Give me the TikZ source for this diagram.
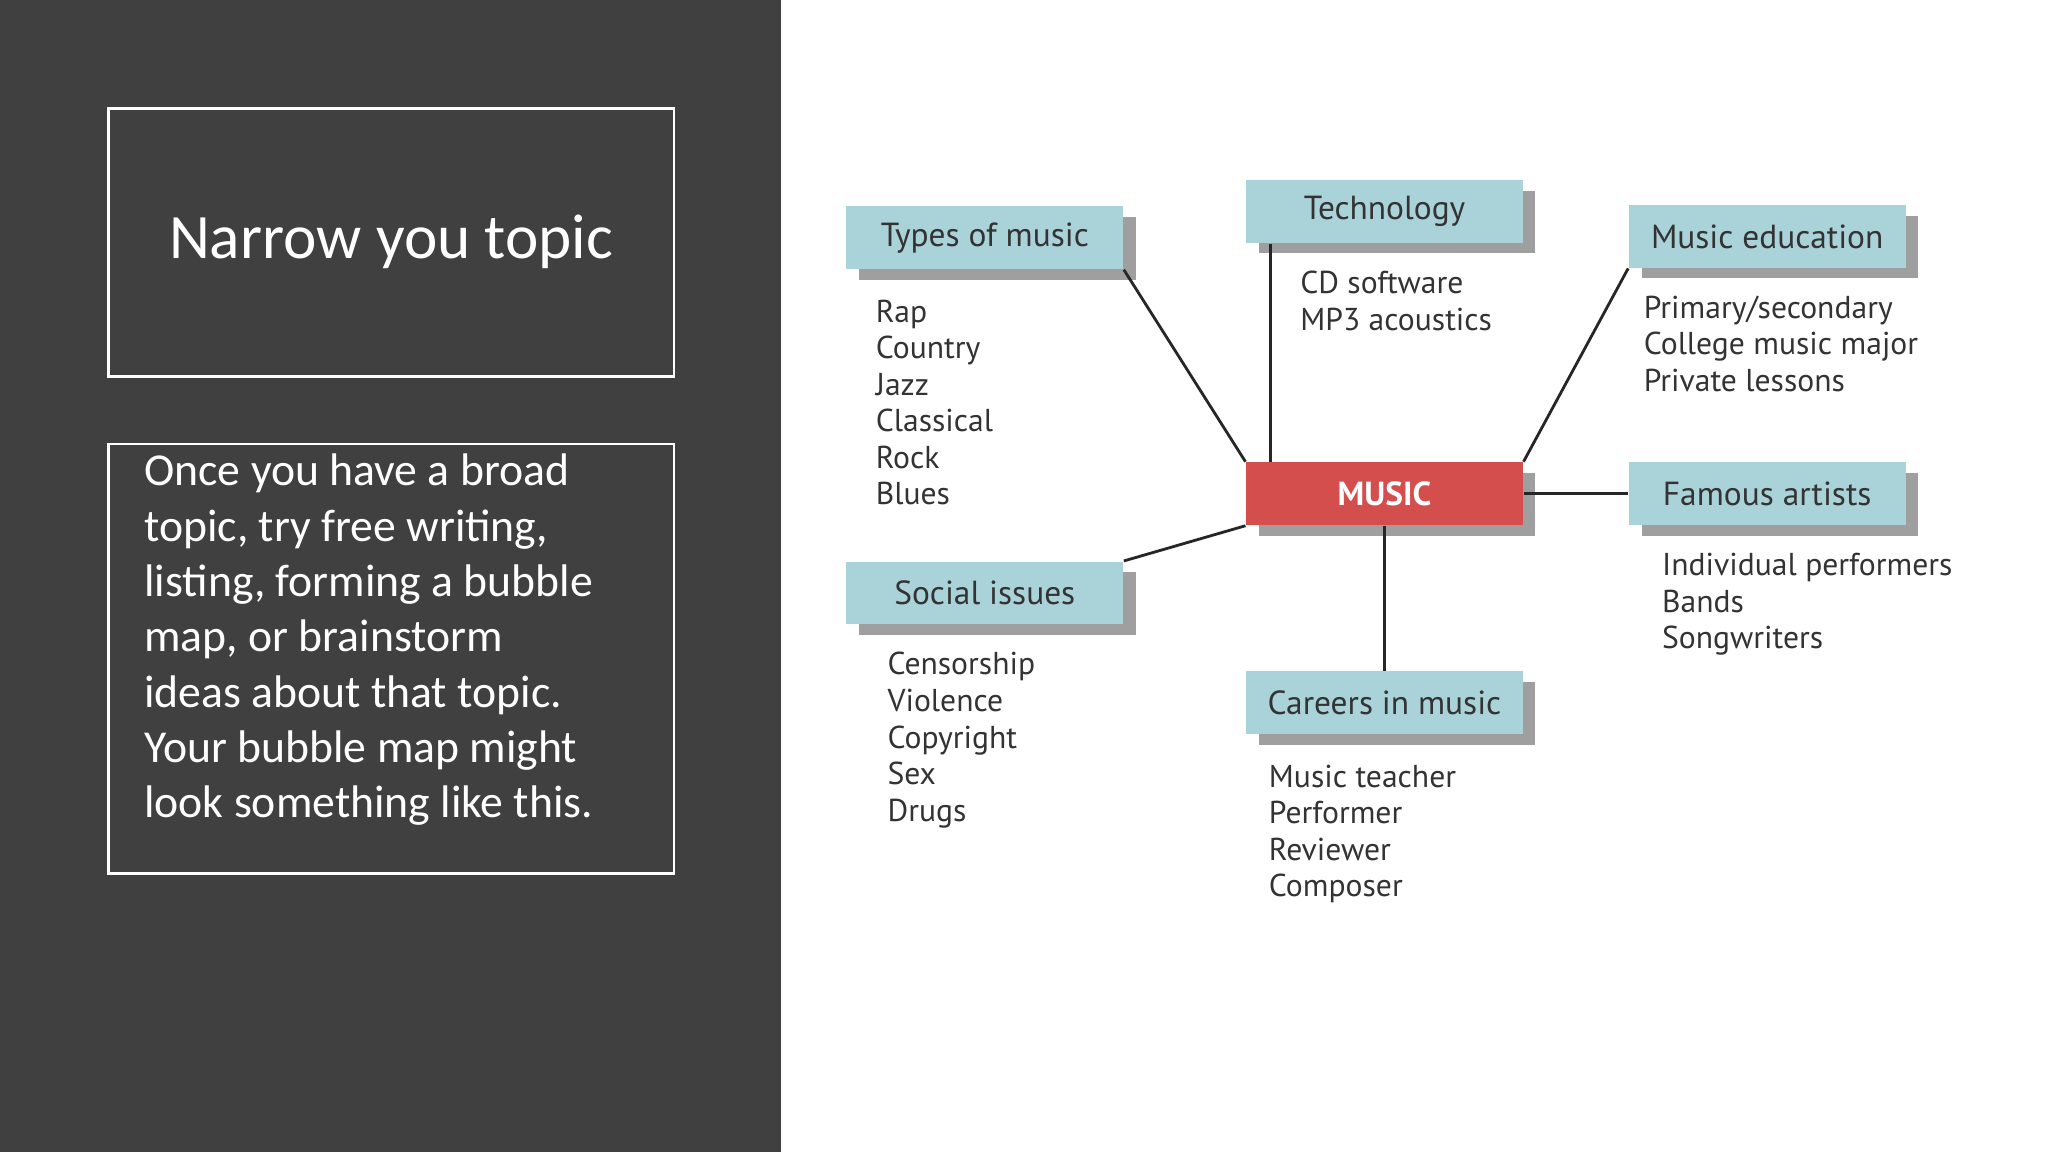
\documentclass[tikz,border=0pt]{standalone}
\usepackage{fontspec}
\setmainfont{Carlito}
\newfontfamily\dfont{PT Sans}
\usetikzlibrary{shadows}
\definecolor{panel}{HTML}{404040}
\definecolor{teal}{HTML}{A9D2D9}
\definecolor{mred}{HTML}{D44E4E}
\tikzset{
  cbox/.style={fill=teal, minimum width=212\pxu, minimum height=48\pxu, inner sep=0pt,
    font=\dfont\fontsize{9.5}{11}\selectfont, text=black!80,
    drop shadow={shadow xshift=3.6pt, shadow yshift=-3pt, fill=gray!75, opacity=1}},
  lst/.style={anchor=north west, align=left, inner sep=0pt, font=\dfont\fontsize{9}{10.4}\selectfont, text=black!80},
  conn/.style={line width=0.8pt, black!85},
}
\newlength\pxu \setlength\pxu{0.3713pt}
\begin{document}
\begin{tikzpicture}[x=0.013061cm, y=-0.013061cm]
\useasboundingbox (0,0) rectangle (1568,882);
\fill[white] (0,0) rectangle (1568,882);
\fill[panel] (0,0) rectangle (598,882);
\draw[white, line width=0.8pt] (83,83) rectangle (516,288);
\node[text=white, font=\fontsize{18}{22}\selectfont] (title) at (299.5,185) {Narrow you topic};
\draw[white, line width=0.8pt] (83,340) rectangle (516,669);
\node[text=white, anchor=north west, align=left, inner sep=0pt, font=\fontsize{13}{15.75}\selectfont] (body) at (110,347)
{Once you have a broad\\topic, try free writing,\\listing, forming a bubble\\map, or brainstorm\\ideas about that topic.\\Your bubble map might\\look something like this.};

\node[cbox] (types) at (754,182) {Types of music};
\node[cbox] (tech) at (1060,162) {Technology};
\node[cbox] (edu) at (1353,181) {Music education};
\node[cbox, fill=mred, text=white, font=\dfont\bfseries\fontsize{9.5}{11}\selectfont] (music) at (1060,378) {MUSIC};
\node[cbox] (famous) at (1353,378) {Famous artists};
\node[cbox] (social) at (754,454) {Social issues};
\node[cbox] (careers) at (1060,538) {Careers in music};

\node[lst] (l1) at (670,229) {Rap\\Country\\Jazz\\Classical\\Rock\\Blues};
\node[lst] (l2) at (995,207) {CD software\\MP3 acoustics};
\node[lst] (l3) at (1258,226) {Primary/secondary\\College music major\\Private lessons};
\node[lst] (l4) at (1272,423) {Individual performers\\Bands\\Songwriters};
\node[lst] (l5) at (679,499) {Censorship\\Violence\\Copyright\\Sex\\Drugs};
\node[lst] (l6) at (971,585) {Music teacher\\Performer\\Reviewer\\Composer};

\coordinate (tA) at (973,187);
\coordinate (tB) at (973,354);
\draw[conn] (types.south east) -- (music.north west);
\draw[conn] (tA) -- (tB);
\draw[conn] (edu.south west) -- (music.north east);
\draw[conn] (music.east) -- (famous.west);
\draw[conn] (music.south) -- (careers.north);
\draw[conn] (social.north east) -- (music.south west);
\end{tikzpicture}
\end{document}
